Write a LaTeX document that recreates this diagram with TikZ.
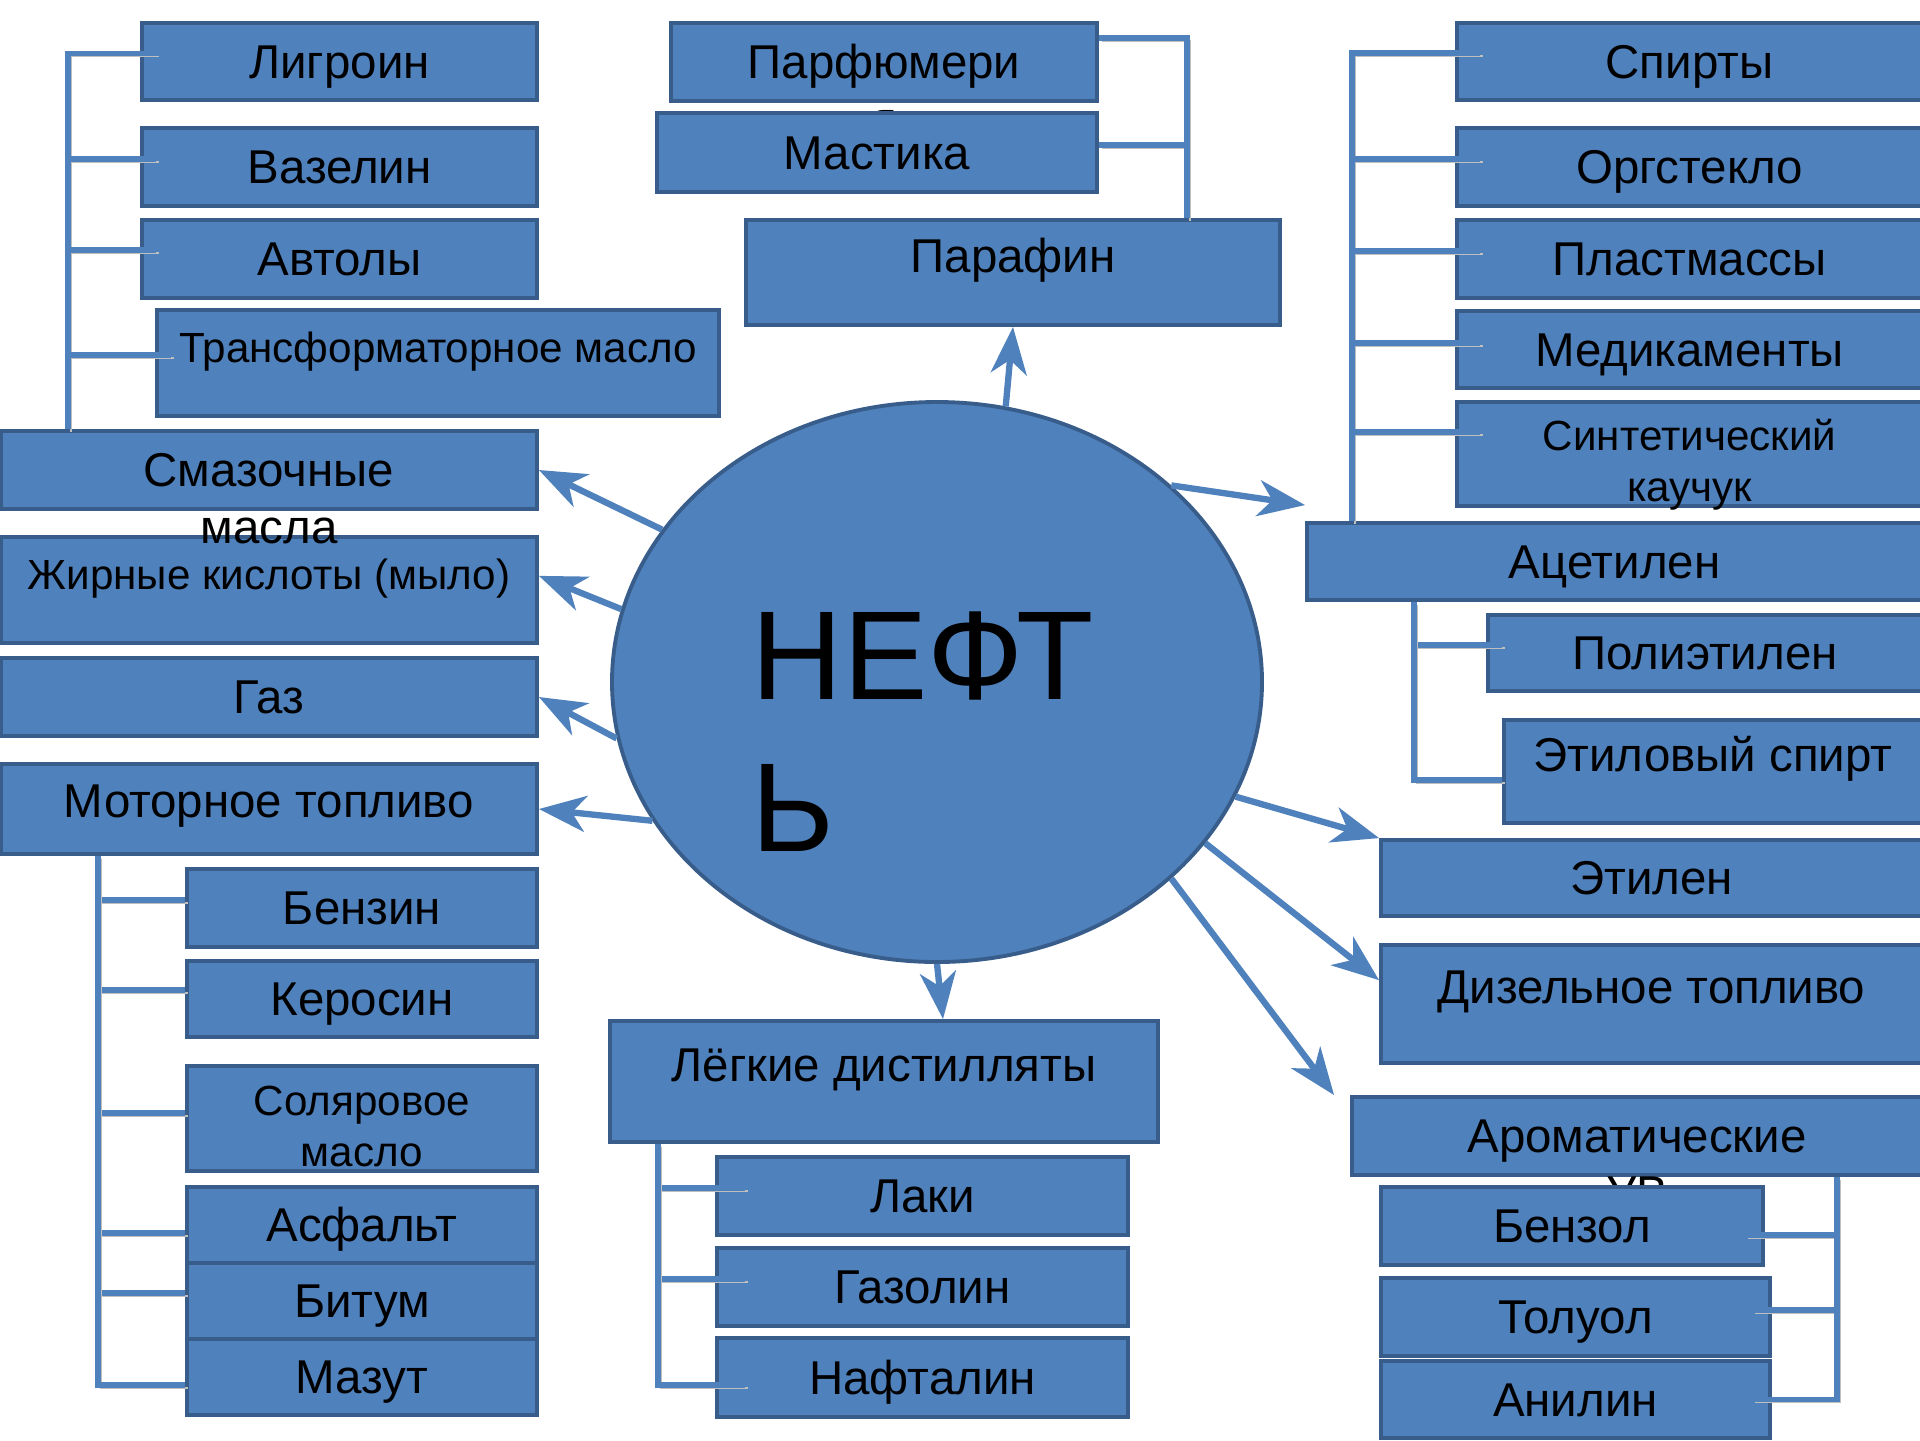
\documentclass[tikz,border=0pt]{standalone}
\usepackage{fontspec}
\setmainfont{Liberation Sans}
\usetikzlibrary{shapes.geometric,arrows.meta}

\definecolor{boxfill}{RGB}{79,129,189}
\definecolor{boxline}{RGB}{56,93,138}

\newcommand{\bigtext}{\fontsize{13.5}{16.2}\selectfont}
\newcommand{\smalltext}{\fontsize{12}{14.4}\selectfont}
\newcommand{\twolines}[2]{\begin{tabular}[b]{@{}c@{}}#1\\#2\end{tabular}}
\newcommand{\spilltext}[2]{\raisebox{-7.3mm}[0pt][0pt]{\twolines{#1}{#2}}}

\tikzset{
  box/.style={rectangle, draw=boxline, fill=boxfill, line width=1.1pt, inner sep=0pt,
    font=\bigtext, text height=3.8mm, text depth=0.5mm},
  small/.style={font=\smalltext},
  tall/.style={text height=3.8mm, text depth=3.9mm},
  spill/.style={text height=0pt, text depth=0pt},
  twoline/.style={text height=0.95cm, text depth=0pt},
  tree/.style={draw=boxfill, line width=1.5pt,
    preaction={draw=black!25, transform canvas={shift={(0.3mm,-0.3mm)}}}},
  arr/.style={draw=boxfill, line width=1.8pt, -{Stealth[length=4.7mm,width=3.6mm,inset=1.4mm]}}
}

\begin{document}
\begin{tikzpicture}
\useasboundingbox (0,0) rectangle (19.2,-14.4);
\fill[white] (0,0) rectangle (19.2,-14.4);

\node[ellipse, draw=boxline, fill=boxfill, line width=1.1pt, inner sep=0pt,
  minimum width=6.5cm, minimum height=5.6cm, font=\fontsize{36}{43.2}\selectfont,
  text height=3.38cm, text depth=0pt] (neft) at (9.37,-6.82)
  {\begin{tabular}[b]{@{}l@{\hspace{2.8mm}}}НЕФТ\\Ь\end{tabular}};

% left
\node[box, minimum width=3.95cm, minimum height=0.77cm] (ligr) at (3.395,-0.615) {Лигроин};
\node[box, minimum width=3.95cm, minimum height=0.78cm] (vaz) at (3.395,-1.67) {Вазелин};
\node[box, minimum width=3.95cm, minimum height=0.78cm] (avt) at (3.395,-2.59) {Автолы};
\node[box, small, tall, minimum width=5.62cm, minimum height=1.06cm] (trans) at (4.38,-3.63) {Трансформаторное масло};
\node[box, small, tall, minimum width=5.36cm, minimum height=1.06cm] (zhir) at (2.69,-5.90) {Жирные кислоты (мыло)};
\node[box, spill, minimum width=5.36cm, minimum height=0.78cm] (smaz) at (2.69,-4.70) {\spilltext{Смазочные}{масла}};
\node[box, minimum width=5.36cm, minimum height=0.78cm] (gaz) at (2.69,-6.97) {Газ};
\node[box, text depth=2.2mm, minimum width=5.36cm, minimum height=0.90cm] (motor) at (2.69,-8.09) {Моторное топливо};
\node[box, minimum width=3.50cm, minimum height=0.78cm] (benz) at (3.62,-9.08) {Бензин};
\node[box, minimum width=3.50cm, minimum height=0.76cm] (kero) at (3.62,-9.99) {Керосин};
\node[box, small, twoline, minimum width=3.50cm, minimum height=1.05cm] (solyar) at (3.62,-11.185) {\twolines{Соляровое}{масло}};
\node[box, minimum width=3.50cm, minimum height=0.76cm] (asf) at (3.62,-12.25) {Асфальт};
\node[box, minimum width=3.50cm, minimum height=0.76cm] (bit) at (3.62,-13.01) {Битум};
\node[box, minimum width=3.50cm, minimum height=0.76cm] (mazut) at (3.62,-13.77) {Мазут};

% top
\node[box, spill, minimum width=4.26cm, minimum height=0.78cm] (parf) at (8.84,-0.62) {\spilltext{Парфюмери}{я}};
\node[box, minimum width=4.40cm, minimum height=0.79cm] (mast) at (8.77,-1.525) {Мастика};
\node[box, tall, minimum width=5.34cm, minimum height=1.05cm] (paraf) at (10.13,-2.725) {Парафин};

% right
\node[box, minimum width=4.65cm, minimum height=0.77cm] (spirt) at (16.895,-0.615) {Спирты};
\node[box, minimum width=4.65cm, minimum height=0.78cm] (orgst) at (16.895,-1.67) {Оргстекло};
\node[box, minimum width=4.65cm, minimum height=0.78cm] (plast) at (16.895,-2.59) {Пластмассы};
\node[box, minimum width=4.65cm, minimum height=0.77cm] (medik) at (16.895,-3.495) {Медикаменты};
\node[box, small, twoline, minimum width=4.65cm, minimum height=1.04cm] (sint) at (16.895,-4.54) {\twolines{Синтетический}{каучук}};
\node[box, minimum width=6.15cm, minimum height=0.77cm] (acet) at (16.145,-5.615) {Ацетилен};
\node[box, minimum width=4.34cm, minimum height=0.76cm] (poly) at (17.05,-6.53) {Полиэтилен};
\node[box, tall, minimum width=4.18cm, minimum height=1.03cm] (etsp) at (17.13,-7.715) {Этиловый спирт};
\node[box, minimum width=5.41cm, minimum height=0.76cm] (etil) at (16.515,-8.78) {Этилен};
\node[box, tall, minimum width=5.41cm, minimum height=1.18cm] (dizel) at (16.515,-10.04) {Дизельное топливо};
\node[box, spill, minimum width=5.70cm, minimum height=0.78cm] (arom) at (16.37,-11.36) {\spilltext{Ароматические}{УВ}};
\node[box, minimum width=3.82cm, minimum height=0.78cm] (benzol) at (15.72,-12.26) {Бензол};
\node[box, minimum width=3.89cm, minimum height=0.78cm] (toluol) at (15.755,-13.17) {Толуол};
\node[box, minimum width=3.89cm, minimum height=0.77cm] (anil) at (15.755,-13.995) {Анилин};

% bottom
\node[box, tall, minimum width=5.48cm, minimum height=1.21cm] (legk) at (8.84,-10.815) {Лёгкие дистилляты};
\node[box, minimum width=4.11cm, minimum height=0.78cm] (laki) at (9.225,-11.96) {Лаки};
\node[box, minimum width=4.11cm, minimum height=0.78cm] (gazol) at (9.225,-12.87) {Газолин};
\node[box, minimum width=4.11cm, minimum height=0.79cm] (naft) at (9.225,-13.775) {Нафталин};

\coordinate (lsp) at (0.68,0);
\coordinate (msp) at (0.98,0);
\coordinate (psp) at (11.87,0);
\coordinate (rsp) at (13.52,0);
\coordinate (asp) at (14.14,0);
\coordinate (arsp) at (18.37,0);
\coordinate (lgsp) at (6.58,0);

\foreach \c/\s in {ligr/0.8mm, vaz/0.8mm, avt/0.9mm, trans/0.8mm}
  \draw[tree] (smaz.north -| lsp) |- ([xshift=1.6mm, yshift=\s]\c.west);
\foreach \c/\s in {benz/0.8mm, kero/0.9mm, solyar/0.55mm, asf/-0.8mm, bit/0.8mm, mazut/-0.8mm}
  \draw[tree] (motor.south -| msp) |- ([yshift=\s]\c.west);
\draw[tree] (paraf.north -| psp) |- ([yshift=2.4mm]parf.east);
\draw[tree] (paraf.north -| psp) |- ([yshift=0.75mm]mast.east);
\foreach \c/\s in {spirt/0.85mm, orgst/0.8mm, plast/0.8mm, medik/0.65mm, sint/2.2mm}
  \draw[tree] (acet.north -| rsp) |- ([xshift=2.5mm, yshift=\s]\c.west);
\draw[tree] (acet.south -| asp) |- ([xshift=1.6mm, yshift=0.8mm]poly.west);
\draw[tree] (acet.south -| asp) |- ([yshift=-0.85mm]etsp.west);
\foreach \c/\s in {benzol/-0.9mm, toluol/0.7mm, anil/0mm}
  \draw[tree] (arom.south -| arsp) |- ([xshift=-2mm, yshift=\s]\c.east);
\foreach \c/\s in {laki/0.8mm, gazol/0.8mm, naft/-0.75mm}
  \draw[tree] (legk.south -| lgsp) |- ([xshift=3mm, yshift=\s]\c.west);

\draw[arr] (neft.76) -- (paraf.south);
\draw[arr] (neft.151) -- (smaz.east);
\draw[arr] (neft.167) -- (zhir.3);
\draw[arr] (neft.190) -- (gaz.east);
\draw[arr] (neft.206) -- (motor.east);
\draw[arr] (neft.40) -- ([yshift=1.6mm]acet.north west);
\draw[arr] (neft.339) -- (etil.north west);
\draw[arr] (neft.329) -- (dizel.175);
\draw[arr] (neft.320) -- ([xshift=-1.6mm]arom.north west);
\draw[arr] (neft.south) -- ([xshift=0.6mm]neft.south |- legk.north);
\end{tikzpicture}
\end{document}
